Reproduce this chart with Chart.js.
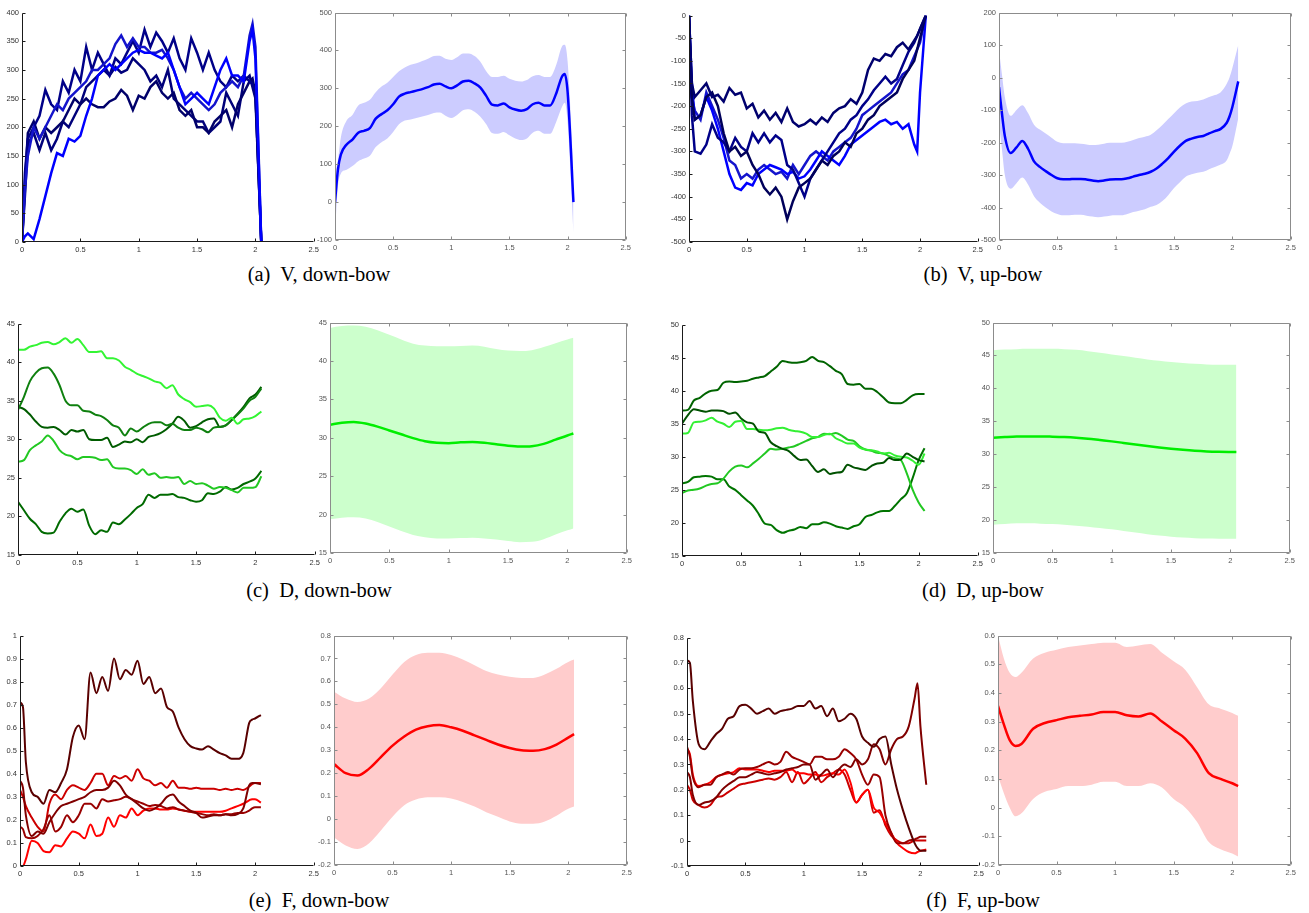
<!DOCTYPE html>
<html>
<head>
<meta charset="utf-8">
<script src="https://cdn.jsdelivr.net/npm/chart.js@4.4.1/dist/chart.umd.min.js"></script>
<style>
  body { margin: 0; background: #fff; width: 1309px; height: 913px; position: relative; overflow: hidden; }
  .cap { position: absolute; font-family: "Liberation Serif", "Times New Roman", serif; font-size: 20.5px; color: #000;
         white-space: pre; transform: translate(-50%, -50%); }
</style>
</head>
<body>
<div class="cap" style="left:319px;top:274px">(a)  V, down-bow</div>
<div class="cap" style="left:983px;top:274px">(b)  V, up-bow</div>
<div class="cap" style="left:319px;top:590px">(c)  D, down-bow</div>
<div class="cap" style="left:983px;top:590px">(d)  D, up-bow</div>
<div class="cap" style="left:319px;top:900px">(e)  F, down-bow</div>
<div class="cap" style="left:983px;top:900px">(f)  F, up-bow</div>
<script>
// time bases (seconds)
const T_FINE = [0,0.025,0.05,0.1,0.15,0.2,0.25,0.3,0.35,0.4,0.45,0.5,0.55,0.6,0.65,0.7,0.75,0.8,0.85,0.9,0.95,1,1.05,1.1,1.15,1.2,1.25,1.3,1.35,1.4,1.45,1.5,1.55,1.6,1.65,1.7,1.75,1.8,1.85,1.9,1.95,1.975,2,2.05];
const T_STEP = [0,0.05,0.1,0.15,0.2,0.25,0.3,0.35,0.4,0.45,0.5,0.55,0.6,0.65,0.7,0.75,0.8,0.85,0.9,0.95,1,1.05,1.1,1.15,1.2,1.25,1.3,1.35,1.4,1.45,1.5,1.55,1.6,1.65,1.7,1.75,1.8,1.85,1.9,1.95,2,2.05];
const T_MEAN = [0,0.1,0.2,0.3,0.4,0.5,0.6,0.7,0.8,0.9,1,1.1,1.2,1.3,1.4,1.5,1.6,1.7,1.8,1.9,2,2.05];
const T_MEAN_F = [0,0.05,0.1,0.15,0.2,0.3,0.4,0.5,0.6,0.7,0.8,0.9,1,1.1,1.2,1.3,1.4,1.5,1.6,1.7,1.8,1.9,2,2.05];

const X_TICKS = [0, 0.5, 1, 1.5, 2, 2.5];

// (a) V, down-bow
const A1 = [0,10,15,5,40,80,120,155,150,180,175,185,220,250,290,300,310,300,310,320,330,335,330,330,325,320,330,300,270,240,250,260,250,240,270,300,320,290,290,280,350,370,320,0];
const A2 = [0,90,150,200,180,200,220,240,230,250,260,270,280,300,300,310,320,345,360,340,355,340,340,330,330,335,320,300,270,250,260,250,240,230,240,260,270,280,270,290,360,380,340,0];
const A3 = [0,120,180,200,220,265,240,230,280,260,300,280,340,300,330,310,290,320,310,330,350,330,370,340,365,350,330,355,320,300,355,330,300,330,300,280,270,290,280,290,280,275,260,0];
const A4 = [0,100,190,210,180,200,190,200,210,230,250,240,250,240,235,235,245,250,265,255,230,255,250,270,280,260,250,260,230,220,230,200,200,190,210,220,230,200,240,260,280,285,260,0];
const A5 = [0,80,170,190,160,190,160,180,210,200,220,240,270,280,290,300,290,305,295,300,320,310,300,280,290,270,300,250,240,230,220,210,210,190,200,210,260,240,220,280,290,270,250,0];
const A_MEAN = [0,85,125,152,165,183,188,195,220,232,242,258,278,286,290,294,298,303,310,312,305,300,308,318,320,313,302,280,257,255,260,250,244,241,245,258,262,255,255,285,330,338,290,0];
const A_UP = [80,110,170,215,230,255,262,270,290,305,315,330,345,355,362,366,372,378,385,386,378,375,382,392,392,385,370,345,330,330,333,325,320,318,322,332,335,330,330,360,410,415,370,80];
const A_LO = [-80,40,75,85,95,108,115,122,145,158,168,185,205,215,218,222,226,230,235,236,228,222,230,242,245,238,225,205,182,180,185,176,168,164,168,183,188,180,180,210,250,262,210,-80];
const Y_A_LEFT = [0,50,100,150,200,250,300,350,400];
const Y_A_RIGHT = [-100,0,100,200,300,400,500];

// (b) V, up-bow
const B1 = [0,-150,-180,-165,-150,-180,-175,-190,-160,-175,-170,-205,-195,-225,-210,-230,-215,-235,-205,-235,-245,-240,-230,-240,-225,-235,-215,-205,-200,-185,-195,-170,-120,-95,-100,-85,-90,-70,-60,-75,-55,-45,-30,0];
const B2 = [0,-180,-230,-220,-180,-170,-200,-260,-300,-290,-310,-300,-330,-350,-380,-395,-380,-400,-450,-410,-380,-370,-360,-340,-320,-330,-310,-300,-280,-290,-260,-250,-230,-220,-200,-190,-180,-170,-140,-120,-100,-75,-50,0];
const B3 = [0,-220,-300,-305,-285,-240,-270,-280,-300,-270,-290,-300,-260,-280,-260,-280,-265,-275,-330,-340,-370,-400,-360,-340,-320,-300,-280,-260,-250,-230,-220,-200,-185,-165,-150,-135,-150,-140,-110,-80,-60,-45,-30,0];
const B4 = [0,-150,-230,-220,-180,-210,-250,-300,-350,-380,-385,-370,-375,-350,-340,-330,-335,-340,-350,-345,-360,-355,-340,-320,-300,-310,-320,-330,-310,-285,-275,-265,-255,-245,-235,-230,-240,-235,-250,-240,-285,-300,-170,0];
const B5 = [0,-180,-210,-230,-170,-200,-230,-270,-320,-330,-360,-350,-360,-340,-330,-340,-350,-345,-360,-330,-350,-330,-310,-300,-310,-320,-300,-290,-280,-270,-250,-220,-210,-200,-190,-180,-170,-150,-130,-120,-90,-75,-60,0];
const B_MEAN = [-30,-110,-180,-232,-215,-195,-220,-258,-275,-288,-300,-310,-313,-313,-312,-312,-314,-317,-319,-317,-314,-313,-313,-310,-305,-300,-296,-290,-280,-265,-248,-228,-210,-195,-188,-183,-180,-172,-165,-158,-140,-120,-90,-12];
const B_UP = [85,10,-60,-118,-100,-85,-110,-145,-160,-172,-185,-198,-202,-202,-202,-204,-206,-208,-207,-204,-201,-201,-201,-198,-192,-186,-182,-176,-162,-146,-128,-110,-92,-80,-74,-72,-68,-60,-54,-45,-20,0,30,100];
const B_LO = [-140,-220,-300,-342,-325,-308,-330,-365,-385,-400,-412,-420,-424,-424,-422,-422,-425,-428,-430,-428,-425,-424,-424,-420,-414,-410,-405,-398,-392,-380,-362,-340,-322,-305,-298,-293,-290,-282,-275,-268,-255,-235,-210,-125];
const Y_B_LEFT = [-500,-450,-400,-350,-300,-250,-200,-150,-100,-50,0];
const Y_B_RIGHT = [-500,-400,-300,-200,-100,0,100,200];

// (c) D, down-bow
const C1 = [41.6,41.6,42.0,42.2,42.5,42.6,42.3,42.6,43.1,42.5,43.0,42.2,41.3,41.3,41.4,40.5,40.5,40.2,39.4,39.0,38.5,38.2,37.9,37.5,37.3,36.6,37.0,35.8,35.2,34.8,34.2,34.3,34.4,34.0,32.8,32.4,32.8,32.0,32.6,32.7,33.0,33.6];
const C2 = [33.8,35.5,37.5,38.6,39.2,39.3,38.5,37.0,35.0,34.4,34.4,33.7,33.6,33.2,33.0,32.5,31.8,31.5,30.5,31.4,31.0,31.5,32.0,32.2,32.2,31.8,32.0,31.5,31.2,31.2,31.5,31.3,30.9,31.5,31.6,31.8,32.5,33.2,34.0,35.0,35.5,36.6];
const C3 = [34.2,33.9,33.2,32.3,31.6,31.5,31.6,31.2,30.6,31.2,31.0,31.2,30.0,29.9,29.9,30.2,29.0,29.3,29.7,29.6,30.0,29.6,30.3,30.5,30.8,31.3,32.0,32.9,32.4,31.5,31.7,32.2,32.6,32.7,31.6,31.8,32.5,33.3,34.2,35.3,35.8,36.8];
const C4 = [27.1,27.3,28.6,29.2,29.7,30.5,29.8,28.6,28.0,27.8,27.4,27.7,27.7,27.6,27.3,27.4,26.4,26.2,26.2,26.0,25.5,26.1,25.4,25.6,25.0,25.1,25.0,25.1,24.2,24.6,24.2,24.3,24.0,23.6,23.8,23.7,23.4,23.1,23.7,23.7,23.8,25.2];
const C5 = [21.9,20.8,19.7,19.0,18.0,17.8,17.9,19.3,20.4,21.0,20.6,20.9,18.8,17.7,18.2,18.0,19.2,19.0,19.6,20.3,21.1,21.6,22.8,22.4,22.8,22.8,22.9,22.5,22.4,22.1,21.9,22.1,23.0,22.9,23.2,23.8,23.5,23.7,24.2,24.5,24.9,25.9];
const C_MEAN = [31.7,31.95,32.05,31.85,31.45,30.95,30.45,29.95,29.55,29.35,29.3,29.4,29.45,29.35,29.15,28.95,28.85,28.9,29.2,29.75,30.3,30.55];
const C_UP = [44.3,44.55,44.6,44.45,44.0,43.4,42.8,42.25,42.0,41.9,41.9,41.95,42.0,41.85,41.55,41.35,41.3,41.4,41.8,42.3,42.8,43.0];
const C_LO = [19.4,19.6,19.65,19.5,19.05,18.45,17.85,17.35,17.05,16.9,16.9,16.95,17.0,16.9,16.75,16.55,16.4,16.45,16.8,17.4,17.95,18.2];
const Y_C = [15,20,25,30,35,40,45];

// (d) D, up-bow
const D1 = [37.0,37.1,38.5,38.9,39.6,40.0,40.1,41.2,41.4,41.3,41.4,41.5,41.8,42.0,42.2,42.9,43.6,44.5,44.3,44.2,44.3,44.5,45.1,44.5,44.3,43.7,43.0,42.5,41.0,40.9,41.0,40.3,40.3,39.8,39.0,38.2,38.1,38.1,38.6,39.3,39.5,39.5];
const D2 = [35.0,36.3,37.2,37.0,36.8,37.0,37.0,36.9,36.5,36.7,35.8,35.2,35.0,33.8,33.6,32.2,31.6,31.2,30.9,30.1,29.5,29.6,28.6,27.7,28.1,27.4,27.6,27.7,28.8,28.4,28.2,28.0,28.6,29.0,29.1,29.8,29.5,29.6,30.5,30.0,29.5,29.3];
const D3 = [33.5,33.6,35.2,35.3,35.5,35.9,35.3,35.0,34.5,35.3,35.4,34.2,34.2,34.1,34.0,34.1,34.3,34.4,34.1,33.9,33.8,33.5,33.0,33.0,33.3,33.5,32.8,32.4,32.0,32.0,31.4,31.1,31.0,30.8,30.5,30.6,30.2,30.0,29.9,29.4,28.8,30.5];
const D4 = [24.5,24.9,25.0,25.2,25.6,25.9,26.0,26.7,27.8,28.5,28.7,28.4,29.0,29.7,30.5,31.2,31.1,31.2,31.4,31.6,32.0,32.4,32.8,33.0,33.5,33.4,33.6,33.2,32.6,32.4,31.6,31.1,30.9,30.6,30.5,30.1,29.8,29.5,27.5,25.0,23.1,21.8];
const D5 = [26.0,26.2,26.9,27.0,27.1,27.0,26.6,26.6,25.5,25.0,24.2,23.4,22.6,21.3,19.9,19.7,18.9,18.5,18.8,19.0,19.4,19.2,19.8,19.8,20.1,19.9,19.5,19.3,19.1,19.5,19.8,20.9,21.2,21.6,21.8,21.8,22.6,23.6,24.5,26.8,29.5,31.3];
const D_MEAN = [32.5,32.6,32.68,32.7,32.7,32.66,32.6,32.5,32.35,32.15,31.95,31.72,31.48,31.25,31.03,30.83,30.66,30.52,30.42,30.36,30.33,30.32];
const D_UP = [45.8,45.9,45.95,46.0,46.0,46.0,45.95,45.85,45.65,45.4,45.15,44.9,44.65,44.4,44.2,44.0,43.85,43.72,43.63,43.6,43.6,43.6];
const D_LO = [19.3,19.4,19.5,19.5,19.45,19.4,19.3,19.15,19.0,18.8,18.6,18.35,18.1,17.85,17.65,17.48,17.35,17.25,17.2,17.18,17.17,17.17];
const Y_D = [15,20,25,30,35,40,45,50];

// (e) F, down-bow
const E1 = [0.71,0.69,0.45,0.32,0.30,0.27,0.33,0.32,0.36,0.42,0.56,0.61,0.55,0.84,0.75,0.82,0.76,0.90,0.81,0.85,0.83,0.89,0.79,0.82,0.75,0.77,0.69,0.67,0.60,0.55,0.52,0.51,0.505,0.52,0.505,0.49,0.48,0.465,0.465,0.49,0.62,0.635,0.64,0.655];
const E2 = [0.37,0.34,0.22,0.13,0.15,0.14,0.19,0.23,0.26,0.27,0.28,0.29,0.30,0.32,0.33,0.33,0.34,0.37,0.35,0.31,0.29,0.27,0.25,0.24,0.25,0.27,0.30,0.31,0.28,0.26,0.24,0.23,0.21,0.215,0.22,0.22,0.225,0.22,0.225,0.25,0.35,0.36,0.36,0.355];
const E3 = [0.17,0.16,0.125,0.12,0.13,0.16,0.22,0.15,0.17,0.22,0.19,0.22,0.27,0.27,0.25,0.29,0.28,0.285,0.29,0.30,0.29,0.28,0.27,0.26,0.265,0.26,0.25,0.255,0.245,0.24,0.235,0.23,0.225,0.22,0.225,0.22,0.225,0.225,0.23,0.23,0.24,0.25,0.255,0.255];
const E4 = [0,0,0.03,0.11,0.10,0.065,0.06,0.09,0.085,0.12,0.15,0.14,0.12,0.18,0.13,0.14,0.21,0.17,0.22,0.21,0.25,0.22,0.24,0.25,0.25,0.245,0.245,0.25,0.245,0.24,0.235,0.235,0.235,0.235,0.235,0.235,0.24,0.25,0.26,0.27,0.285,0.29,0.29,0.275];
const E5 = [0.33,0.30,0.26,0.21,0.17,0.15,0.27,0.31,0.29,0.33,0.35,0.34,0.33,0.36,0.40,0.40,0.35,0.39,0.38,0.39,0.37,0.42,0.38,0.37,0.35,0.36,0.34,0.37,0.34,0.34,0.335,0.34,0.335,0.335,0.335,0.33,0.335,0.33,0.335,0.33,0.345,0.355,0.36,0.36];
const E_MEAN = [0.24,0.20,0.19,0.22,0.27,0.32,0.36,0.39,0.405,0.41,0.40,0.385,0.365,0.345,0.325,0.31,0.30,0.298,0.305,0.325,0.355,0.37];
const E_UP = [0.555,0.525,0.51,0.525,0.57,0.63,0.685,0.715,0.725,0.725,0.715,0.695,0.67,0.645,0.63,0.62,0.615,0.615,0.63,0.655,0.685,0.695];
const E_LO = [-0.08,-0.115,-0.13,-0.105,-0.05,0.01,0.06,0.085,0.095,0.095,0.09,0.075,0.055,0.03,0.01,-0.01,-0.02,-0.02,-0.01,0.015,0.045,0.055];
const Y_E_LEFT = [0,0.1,0.2,0.3,0.4,0.5,0.6,0.7,0.8,0.9,1];
const Y_E_RIGHT = [-0.2,-0.1,0,0.1,0.2,0.3,0.4,0.5,0.6,0.7,0.8];

// (f) F, up-bow
const F1 = [0.71,0.70,0.55,0.38,0.36,0.39,0.42,0.44,0.48,0.49,0.53,0.535,0.52,0.50,0.51,0.52,0.50,0.51,0.515,0.52,0.53,0.53,0.55,0.52,0.53,0.49,0.52,0.47,0.48,0.50,0.48,0.41,0.385,0.37,0.40,0.41,0.30,0.20,0.12,0.05,-0.01,-0.03,-0.04,-0.04];
const F2 = [0.27,0.25,0.18,0.14,0.15,0.155,0.17,0.20,0.22,0.235,0.25,0.25,0.26,0.27,0.265,0.26,0.265,0.27,0.28,0.285,0.29,0.30,0.30,0.24,0.26,0.28,0.25,0.28,0.30,0.29,0.32,0.30,0.32,0.38,0.36,0.30,0.36,0.40,0.41,0.45,0.56,0.62,0.45,0.22];
const F3 = [0.37,0.33,0.25,0.21,0.22,0.22,0.25,0.26,0.27,0.26,0.28,0.285,0.285,0.29,0.30,0.31,0.30,0.31,0.35,0.33,0.32,0.31,0.30,0.33,0.33,0.32,0.32,0.33,0.36,0.345,0.32,0.26,0.22,0.26,0.25,0.10,0.03,-0.01,-0.01,0.0,0.005,0.01,0.015,0.015];
const F4 = [0.36,0.34,0.26,0.215,0.22,0.23,0.25,0.26,0.265,0.27,0.285,0.28,0.28,0.28,0.275,0.27,0.275,0.275,0.275,0.28,0.265,0.265,0.26,0.26,0.255,0.26,0.265,0.26,0.28,0.23,0.15,0.18,0.20,0.13,0.11,0.07,0.03,-0.01,-0.03,-0.045,-0.05,-0.045,-0.04,-0.035];
const F5 = [0.22,0.20,0.16,0.14,0.13,0.14,0.17,0.175,0.19,0.205,0.22,0.225,0.23,0.235,0.24,0.245,0.24,0.25,0.27,0.23,0.27,0.225,0.245,0.27,0.23,0.25,0.265,0.28,0.26,0.20,0.15,0.18,0.20,0.11,0.12,0.06,0.02,0.0,-0.01,-0.01,0.0,0.0,0.0,0.0];
const F_MEAN = [0.355,0.29,0.235,0.215,0.222,0.275,0.295,0.305,0.315,0.32,0.325,0.333,0.333,0.322,0.318,0.328,0.30,0.27,0.24,0.19,0.12,0.10,0.085,0.075];
const F_UP = [0.60,0.52,0.47,0.455,0.47,0.52,0.54,0.55,0.56,0.565,0.57,0.575,0.575,0.56,0.565,0.57,0.54,0.51,0.48,0.42,0.36,0.345,0.33,0.32];
const F_LO = [0.11,0.05,0.0,-0.03,-0.02,0.03,0.055,0.065,0.075,0.075,0.08,0.09,0.09,0.075,0.075,0.085,0.07,0.03,0.0,-0.05,-0.12,-0.145,-0.16,-0.17];
const Y_F_LEFT = [-0.1,0,0.1,0.2,0.3,0.4,0.5,0.6,0.7,0.8];
const Y_F_RIGHT = [-0.2,-0.1,0,0.1,0.2,0.3,0.4,0.5,0.6];

const BLUES = ['#0000ff', '#1414cc', '#000088', '#00006a', '#00007a'];
const BLUES_B = ['#00006e', '#00005a', '#000088', '#0000ff', '#1414cc'];
const GREENS_C = ['#33f533', '#0f800f', '#005c00', '#22c822', '#006a00'];
const GREENS_D = ['#006400', '#005200', '#33f033', '#22c822', '#007400'];
const REDS = ['#5a0000', '#800000', '#990000', '#ff0000', '#cc0000'];

const FONT = '"Liberation Sans", Arial, sans-serif';
const PAD_L = 30, PAD_T = 6, PAD_R = 8, PAD_B = 16;

// draws matlab style axes: inward ticks, box on the summary plots
const axesFrame = {
  id: 'axesFrame',
  afterDatasetsDraw(chart, args, opts) {
    const { ctx, chartArea: a, scales } = chart;
    const L = Math.round(a.left) + 0.5, R = Math.round(a.right) - 0.5;
    const T = Math.round(a.top) + 0.5, B = Math.round(a.bottom) - 0.5;
    const tl = 3;
    ctx.save();
    ctx.strokeStyle = opts.color;
    ctx.lineWidth = 1;
    ctx.beginPath();
    ctx.moveTo(L, T); ctx.lineTo(L, B); ctx.lineTo(R, B);
    if (opts.box) { ctx.lineTo(R, T); ctx.lineTo(L, T); }
    scales.x.ticks.forEach(t => {
      const px = Math.round(scales.x.getPixelForValue(t.value)) + 0.5;
      ctx.moveTo(px, B); ctx.lineTo(px, B - tl);
      if (opts.box) { ctx.moveTo(px, T); ctx.lineTo(px, T + tl); }
    });
    scales.y.ticks.forEach(t => {
      const py = Math.round(scales.y.getPixelForValue(t.value)) + 0.5;
      ctx.moveTo(L, py); ctx.lineTo(L + tl, py);
      if (opts.box) { ctx.moveTo(R, py); ctx.lineTo(R - tl, py); }
    });
    ctx.stroke();
    ctx.restore();
  }
};

function pts(xs, ys) {
  return xs.map((x, i) => ({ x: x, y: ys[i] }));
}

function fmt(v) {
  return String(Math.round(v * 1000) / 1000);
}

function drawPanel(p) {
  const [l, t, r, b] = p.area;
  const w = r - l + PAD_L + PAD_R, h = b - t + PAD_T + PAD_B;
  const cv = document.createElement('canvas');
  cv.width = w; cv.height = h;
  cv.style.cssText = 'position:absolute;left:' + (l - PAD_L) + 'px;top:' + (t - PAD_T) + 'px;width:' + w + 'px;height:' + h + 'px';
  document.body.appendChild(cv);

  const datasets = [];
  if (p.band) {
    datasets.push({ data: pts(p.t, p.band.mean), borderColor: p.band.line, borderWidth: 2.5, fill: false, cubicInterpolationMode: 'monotone' });
    datasets.push({ data: pts(p.t, p.band.upper), borderColor: 'rgba(0,0,0,0)', borderWidth: 0, backgroundColor: p.band.fill, fill: '+1', cubicInterpolationMode: 'monotone' });
    datasets.push({ data: pts(p.t, p.band.lower), borderColor: 'rgba(0,0,0,0)', borderWidth: 0, fill: false, cubicInterpolationMode: 'monotone' });
  } else {
    p.series.forEach((s, i) => {
      datasets.push({
        data: pts(p.t, s), borderColor: p.colors[i], borderWidth: p.lw, fill: false,
        tension: 0, cubicInterpolationMode: p.smooth ? 'monotone' : 'default'
      });
    });
  }

  const tickColor = p.band ? '#555' : '#333';
  const yt = p.y;
  new Chart(cv, {
    type: 'line',
    data: { datasets: datasets },
    plugins: [axesFrame],
    options: {
      responsive: false,
      animation: false,
      devicePixelRatio: 1,
      layout: { padding: { left: 0, top: PAD_T, right: PAD_R, bottom: 0 } },
      elements: { point: { radius: 0 } },
      plugins: {
        legend: { display: false },
        tooltip: { enabled: false },
        axesFrame: { color: p.band ? '#8c8c8c' : '#1a1a1a', box: !!p.band }
      },
      scales: {
        x: {
          type: 'linear', min: 0, max: 2.5,
          grid: { display: false, drawTicks: false, tickLength: 0 },
          border: { display: false },
          afterBuildTicks: s => { s.ticks = X_TICKS.map(v => ({ value: v })); },
          afterFit: s => { s.height = PAD_B; },
          ticks: { padding: 3, color: tickColor, font: { size: 7.5, family: FONT }, maxRotation: 0, autoSkip: false, callback: fmt }
        },
        y: {
          type: 'linear', min: yt[0], max: yt[yt.length - 1],
          grid: { display: false, drawTicks: false, tickLength: 0 },
          border: { display: false },
          afterBuildTicks: s => { s.ticks = yt.map(v => ({ value: v })); },
          afterFit: s => { s.width = PAD_L; },
          ticks: { padding: 3, color: tickColor, font: { size: 7.5, family: FONT }, autoSkip: false, callback: fmt }
        }
      }
    }
  });
}

const panels = [
  { area: [22, 11, 314, 242], t: T_FINE, y: Y_A_LEFT, series: [A1, A2, A3, A4, A5], colors: BLUES, smooth: false, lw: 2.5 },
  { area: [335, 11, 626, 240], t: T_FINE, y: Y_A_RIGHT, band: { mean: A_MEAN, upper: A_UP, lower: A_LO, line: '#0000ff', fill: '#ccccff' } },
  { area: [689, 14, 978, 242], t: T_FINE, y: Y_B_LEFT, series: [B1, B2, B3, B4, B5], colors: BLUES_B, smooth: false, lw: 2.5 },
  { area: [999, 11, 1291, 240], t: T_FINE, y: Y_B_RIGHT, band: { mean: B_MEAN, upper: B_UP, lower: B_LO, line: '#0000ff', fill: '#ccccff' } },
  { area: [18, 322, 315, 555], t: T_STEP, y: Y_C, series: [C1, C2, C3, C4, C5], colors: GREENS_C, smooth: true, lw: 2 },
  { area: [330, 321, 627, 553], t: T_MEAN, y: Y_C, band: { mean: C_MEAN, upper: C_UP, lower: C_LO, line: '#00ee00', fill: '#ccffcc' } },
  { area: [682, 323, 978, 556], t: T_STEP, y: Y_D, series: [D1, D2, D3, D4, D5], colors: GREENS_D, smooth: true, lw: 2 },
  { area: [993, 321, 1290, 553], t: T_MEAN, y: Y_D, band: { mean: D_MEAN, upper: D_UP, lower: D_LO, line: '#00ee00', fill: '#ccffcc' } },
  { area: [20, 634, 314, 866], t: T_FINE, y: Y_E_LEFT, series: [E1, E2, E3, E4, E5], colors: REDS, smooth: true, lw: 2 },
  { area: [334, 634, 627, 865], t: T_MEAN, y: Y_E_RIGHT, band: { mean: E_MEAN, upper: E_UP, lower: E_LO, line: '#ff0000', fill: '#ffcccc' } },
  { area: [687, 636, 979, 866], t: T_FINE, y: Y_F_LEFT, series: [F1, F2, F3, F4, F5], colors: REDS, smooth: true, lw: 2 },
  { area: [998, 634, 1291, 865], t: T_MEAN_F, y: Y_F_RIGHT, band: { mean: F_MEAN, upper: F_UP, lower: F_LO, line: '#ff0000', fill: '#ffcccc' } }
];

panels.forEach(drawPanel);
</script>
</body>
</html>
